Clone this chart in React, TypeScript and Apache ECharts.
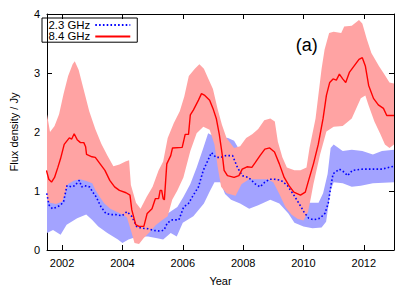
import React, { useEffect, useRef } from 'react';
import * as echarts from 'echarts';

type P = [number, number];

const yearTicks = [2002, 2004, 2006, 2008, 2010, 2012];
const seriesNames = ['2.3 GHz', '8.4 GHz'];

// 2.3 GHz (blue, dotted) centre line
const flux23: P[] = [
  [2001.49, 0.96], [2001.57, 0.76], [2001.68, 0.7], [2001.84, 0.73], [2001.95, 0.76], [2002.05, 0.82],
  [2002.16, 1.09], [2002.32, 1.07], [2002.42, 1.09], [2002.57, 1.18], [2002.65, 1.07], [2002.75, 1.09],
  [2002.91, 1.07], [2003.02, 0.98], [2003.13, 0.9], [2003.29, 0.73], [2003.45, 0.62], [2003.61, 0.6],
  [2003.77, 0.6], [2003.99, 0.58], [2004.15, 0.65], [2004.31, 0.57], [2004.47, 0.4], [2004.63, 0.37],
  [2004.85, 0.36], [2005.06, 0.33], [2005.28, 0.32], [2005.38, 0.34], [2005.49, 0.46], [2005.65, 0.51],
  [2005.87, 0.51], [2006.03, 0.73], [2006.19, 0.79], [2006.35, 0.93], [2006.52, 1.07], [2006.68, 1.35],
  [2006.78, 1.46], [2006.95, 1.65], [2007.1, 1.57], [2007.27, 1.57], [2007.43, 1.6], [2007.65, 1.6],
  [2007.81, 1.4], [2007.97, 1.26], [2008.18, 1.23], [2008.4, 1.12], [2008.56, 1.07], [2008.72, 1.15],
  [2008.88, 1.2], [2009.04, 1.2], [2009.26, 1.18], [2009.47, 1.09], [2009.68, 0.93], [2009.85, 0.79],
  [2010.01, 0.65], [2010.17, 0.54], [2010.33, 0.51], [2010.55, 0.54], [2010.71, 0.62], [2010.82, 0.79],
  [2010.92, 1.12], [2010.98, 1.29], [2011.19, 1.37], [2011.35, 1.32], [2011.46, 1.26], [2011.62, 1.35],
  [2011.95, 1.37], [2012.3, 1.37], [2012.6, 1.37], [2012.9, 1.41], [2013.0, 1.42],
];

// 2.3 GHz band
const upper23: P[] = [
  [2001.5, 1.2], [2002.0, 1.1], [2002.5, 1.45], [2003.0, 1.35], [2003.5, 0.95], [2004.0, 0.85],
  [2004.3, 0.8], [2004.5, 0.6], [2005.0, 0.55], [2005.3, 0.55], [2005.5, 0.62], [2005.82, 0.73],
  [2006.02, 0.9], [2006.25, 1.12], [2006.46, 1.4], [2006.68, 1.73], [2006.84, 1.98], [2006.95, 1.95],
  [2007.2, 1.92], [2007.5, 1.9], [2007.7, 1.85], [2007.85, 1.72], [2008.0, 1.6], [2008.3, 1.45],
  [2008.6, 1.4], [2009.0, 1.5], [2009.3, 1.45], [2009.6, 1.2], [2009.9, 1.0], [2010.2, 0.8],
  [2010.5, 0.8], [2010.65, 0.96], [2010.8, 1.29], [2010.9, 1.73], [2011.0, 1.79], [2011.3, 1.68],
  [2011.6, 1.7], [2011.95, 1.68], [2012.3, 1.62], [2012.6, 1.68], [2013.0, 1.7],
];
const lower23: P[] = [
  [2001.5, 0.29], [2001.7, 0.34], [2001.95, 0.26], [2002.15, 0.43], [2002.5, 0.54], [2002.8, 0.6],
  [2003.0, 0.51], [2003.2, 0.4], [2003.5, 0.29], [2003.85, 0.18], [2004.0, 0.12], [2004.2, 0.18],
  [2004.5, 0.23], [2004.85, 0.23], [2005.15, 0.2], [2005.35, 0.18], [2005.6, 0.29], [2005.8, 0.23],
  [2006.0, 0.46], [2006.35, 0.57], [2006.7, 0.79], [2006.9, 1.0], [2007.05, 1.15], [2007.25, 1.15],
  [2007.4, 0.95], [2007.6, 0.85], [2007.9, 0.79], [2008.2, 0.7], [2008.5, 0.76], [2008.9, 0.85],
  [2009.2, 0.79], [2009.5, 0.62], [2009.7, 0.46], [2010.0, 0.4], [2010.3, 0.37], [2010.6, 0.38],
  [2010.75, 0.48], [2010.9, 1.01], [2011.0, 1.15], [2011.3, 1.13], [2011.6, 1.07], [2011.9, 1.09],
  [2012.3, 1.13], [2013.0, 1.15],
];

// 8.4 GHz (red, solid) centre line
const flux84: P[] = [
  [2001.48, 1.35], [2001.56, 1.2], [2001.65, 1.15], [2001.75, 1.23], [2001.86, 1.4], [2001.95, 1.55],
  [2002.07, 1.79], [2002.24, 1.9], [2002.32, 1.88], [2002.4, 1.97], [2002.5, 1.87], [2002.61, 1.82],
  [2002.72, 1.82], [2002.78, 1.75], [2002.81, 1.62], [2002.99, 1.58], [2003.1, 1.57], [2003.26, 1.46],
  [2003.42, 1.35], [2003.58, 1.18], [2003.74, 1.07], [2003.9, 1.01], [2004.12, 0.97], [2004.25, 0.93],
  [2004.31, 0.68], [2004.44, 0.43], [2004.55, 0.4], [2004.71, 0.4], [2004.82, 0.62], [2004.98, 0.7],
  [2005.09, 0.87], [2005.2, 0.87], [2005.25, 1.01], [2005.3, 1.01], [2005.35, 0.87], [2005.39, 0.85],
  [2005.47, 1.46], [2005.6, 1.6], [2005.66, 1.73], [2005.98, 1.74], [2006.08, 1.96], [2006.19, 1.96],
  [2006.25, 2.29], [2006.35, 2.37], [2006.52, 2.54], [2006.62, 2.65], [2006.73, 2.62], [2006.89, 2.54],
  [2007.0, 2.4], [2007.11, 2.23], [2007.21, 1.96], [2007.32, 1.57], [2007.37, 1.35], [2007.48, 1.26],
  [2007.7, 1.23], [2007.86, 1.26], [2007.97, 1.37], [2008.13, 1.41], [2008.29, 1.4], [2008.4, 1.48],
  [2008.56, 1.6], [2008.72, 1.71], [2008.88, 1.73], [2009.04, 1.66], [2009.2, 1.46], [2009.36, 1.23],
  [2009.52, 1.09], [2009.68, 0.98], [2009.9, 0.93], [2010.06, 0.98], [2010.17, 1.18], [2010.33, 1.46],
  [2010.49, 1.79], [2010.65, 2.23], [2010.76, 2.62], [2010.87, 2.84], [2010.98, 2.9], [2011.09, 2.88],
  [2011.19, 2.98], [2011.3, 2.9], [2011.4, 2.84], [2011.52, 3.01], [2011.68, 3.12], [2011.84, 3.23],
  [2011.95, 3.26], [2012.05, 3.12], [2012.16, 2.79], [2012.32, 2.57], [2012.48, 2.46], [2012.65, 2.4],
  [2012.76, 2.28], [2013.0, 2.28],
];

// 8.4 GHz band
const upper84: P[] = [
  [2001.5, 2.3], [2001.6, 2.0], [2001.75, 2.1], [2001.9, 2.3], [2002.05, 2.65], [2002.2, 2.95],
  [2002.35, 3.15], [2002.42, 3.2], [2002.55, 3.05], [2002.7, 2.75], [2002.9, 2.35], [2003.1, 2.05],
  [2003.3, 1.8], [2003.5, 1.6], [2003.7, 1.42], [2003.9, 1.45], [2004.1, 1.5], [2004.22, 1.52],
  [2004.28, 1.1], [2004.45, 0.8], [2004.6, 0.7], [2004.8, 0.9], [2005.0, 1.07], [2005.2, 1.35],
  [2005.35, 1.5], [2005.5, 1.9], [2005.7, 2.15], [2005.9, 2.35], [2006.05, 2.6], [2006.2, 2.95],
  [2006.4, 3.07], [2006.55, 3.15], [2006.7, 3.07], [2006.85, 2.9], [2007.0, 2.73], [2007.15, 2.4],
  [2007.3, 2.12], [2007.45, 1.9], [2007.7, 1.73], [2007.9, 1.76], [2008.1, 1.9], [2008.3, 1.96],
  [2008.5, 2.05], [2008.7, 2.2], [2008.9, 2.23], [2009.05, 2.18], [2009.15, 1.84], [2009.3, 1.57],
  [2009.45, 1.4], [2009.7, 1.35], [2009.9, 1.35], [2010.1, 1.4], [2010.2, 1.73], [2010.4, 2.23],
  [2010.6, 3.07], [2010.7, 3.4], [2010.85, 3.68], [2011.0, 3.7], [2011.25, 3.68], [2011.35, 3.79],
  [2011.6, 3.8], [2011.84, 3.9], [2011.95, 3.84], [2012.1, 3.57], [2012.25, 3.34], [2012.5, 3.12],
  [2012.7, 2.96], [2012.85, 2.84], [2013.0, 2.82],
];
const lower84: P[] = [
  [2001.5, 0.85], [2001.6, 0.8], [2001.8, 0.78], [2002.0, 0.82], [2002.1, 0.95], [2002.2, 1.12],
  [2002.4, 1.18], [2002.6, 1.2], [2002.8, 1.17], [2003.0, 1.13], [2003.1, 1.02], [2003.25, 0.9],
  [2003.4, 0.79], [2003.6, 0.7], [2003.8, 0.65], [2004.0, 0.6], [2004.15, 0.55], [2004.3, 0.3],
  [2004.4, 0.12], [2004.55, 0.1], [2004.7, 0.2], [2004.9, 0.3], [2005.1, 0.42], [2005.3, 0.5],
  [2005.5, 0.57], [2005.65, 0.85], [2005.82, 1.01], [2006.02, 1.23], [2006.25, 1.68], [2006.46, 1.98],
  [2006.68, 2.09], [2006.89, 2.04], [2007.05, 1.79], [2007.16, 1.4], [2007.27, 1.07], [2007.45, 0.96],
  [2007.75, 0.92], [2007.95, 1.12], [2008.2, 1.2], [2008.5, 1.2], [2008.8, 1.2], [2009.0, 1.15],
  [2009.2, 0.95], [2009.4, 0.73], [2009.6, 0.6], [2009.8, 0.53], [2010.0, 0.5], [2010.15, 0.65],
  [2010.25, 0.9], [2010.33, 1.12], [2010.55, 1.62], [2010.76, 2.01], [2011.0, 2.09], [2011.3, 2.1],
  [2011.6, 2.23], [2011.9, 2.57], [2012.05, 2.62], [2012.15, 2.46], [2012.35, 2.18], [2012.55, 1.96],
  [2012.7, 1.79], [2012.85, 1.73], [2013.0, 1.79],
];

const FONT = "'Liberation Sans', Arial, Helvetica, sans-serif";

export default function App() {
  const ref = useRef<HTMLDivElement>(null);

  useEffect(() => {
    document.body.style.margin = '0';
    const chart = echarts.init(ref.current as HTMLDivElement, null, { renderer: 'svg' });

    const band = (name: string, upper: P[], lower: P[], color: string) => ({
      type: 'custom',
      name,
      coordinateSystem: 'cartesian2d',
      xAxisIndex: 0,
      yAxisIndex: 0,
      silent: true,
      clip: true,
      z: 1,
      data: [[upper[0][0], upper[0][1]]],
      renderItem: (_params: any, api: any) => {
        const pts = upper
          .map((p) => api.coord(p))
          .concat(lower.slice().reverse().map((p) => api.coord(p)));
        return {
          type: 'polygon',
          shape: { points: pts },
          style: { fill: color, stroke: 'none' },
        };
      },
    });

    const axisLine = { show: true, onZero: false, lineStyle: { color: '#000', width: 1 } };

    chart.setOption({
      animation: false,
      backgroundColor: '#fff',
      textStyle: { fontFamily: FONT },
      grid: { left: 36, right: 21, top: 14, bottom: 37, containLabel: false },
      legend: {
        data: seriesNames,
        left: 42,
        top: 18,
        orient: 'vertical',
        align: 'right',
        itemWidth: 35,
        itemHeight: 8,
        itemGap: 0,
        padding: [1.2, 6, 0, 6.5],
        borderColor: '#000',
        borderWidth: 1,
        borderRadius: 0,
        selectedMode: false,
        itemStyle: { opacity: 0, borderWidth: 0 },
        textStyle: { fontFamily: FONT, fontSize: 11.4, color: '#000', lineHeight: 11.5 },
      },
      xAxis: [
        {
          type: 'value',
          min: 2001.5,
          max: 2013,
          position: 'bottom',
          axisLine,
          axisTick: { show: true, inside: true, length: 5, customValues: yearTicks, lineStyle: { color: '#000' } },
          axisLabel: {
            show: true,
            customValues: yearTicks,
            margin: 7,
            color: '#000',
            fontFamily: FONT,
            fontSize: 11,
            formatter: (v: number) => String(v),
          },
          splitLine: { show: false },
          name: 'Year',
          nameLocation: 'middle',
          nameGap: 25,
          nameTextStyle: { fontFamily: FONT, fontSize: 11, color: '#000' },
        },
        {
          type: 'value',
          min: 2001.5,
          max: 2013,
          position: 'top',
          axisLine,
          axisTick: { show: true, inside: true, length: 5, customValues: yearTicks, lineStyle: { color: '#000' } },
          axisLabel: { show: false },
          splitLine: { show: false },
        },
      ],
      yAxis: [
        {
          type: 'value',
          min: 0,
          max: 4,
          interval: 1,
          position: 'left',
          axisLine,
          axisTick: { show: true, inside: true, length: 5, lineStyle: { color: '#000' } },
          axisLabel: { show: true, margin: 7, color: '#000', fontFamily: FONT, fontSize: 11 },
          splitLine: { show: false },
          name: 'Flux density / Jy',
          nameLocation: 'middle',
          nameRotate: 90,
          nameGap: 28,
          nameTextStyle: { fontFamily: FONT, fontSize: 11, color: '#000' },
        },
        {
          type: 'value',
          min: 0,
          max: 4,
          interval: 1,
          position: 'right',
          axisLine,
          axisTick: { show: true, inside: true, length: 5, lineStyle: { color: '#000' } },
          axisLabel: { show: false },
          splitLine: { show: false },
        },
      ],
      graphic: [
        {
          type: 'text',
          x: 306.7,
          y: 44.5,
          style: {
            text: '(a)',
            fontFamily: FONT,
            fontSize: 18,
            fill: '#000',
            textAlign: 'center',
            textVerticalAlign: 'middle',
          },
        },
      ],
      series: [
        band('2.3 GHz band', upper23, lower23, '#a3a3ff'),
        band('8.4 GHz band', upper84, lower84, '#ffa3a3'),
        {
          type: 'line',
          name: seriesNames[0],
          data: flux23,
          xAxisIndex: 0,
          yAxisIndex: 0,
          showSymbol: false,
          symbol: 'none',
          z: 3,
          lineStyle: { color: '#0000ff', width: 1.6, type: [1.6, 2.2], cap: 'butt' },
          itemStyle: { color: '#0000ff' },
        },
        {
          type: 'line',
          name: seriesNames[1],
          data: flux84,
          xAxisIndex: 0,
          yAxisIndex: 0,
          showSymbol: false,
          symbol: 'none',
          z: 4,
          lineStyle: { color: '#ff0000', width: 1.4, type: 'solid' },
          itemStyle: { color: '#ff0000' },
        },
      ],
    });

    return () => {
      chart.dispose();
    };
  }, []);

  return <div ref={ref} style={{ width: 415, height: 291 }} />;
}
